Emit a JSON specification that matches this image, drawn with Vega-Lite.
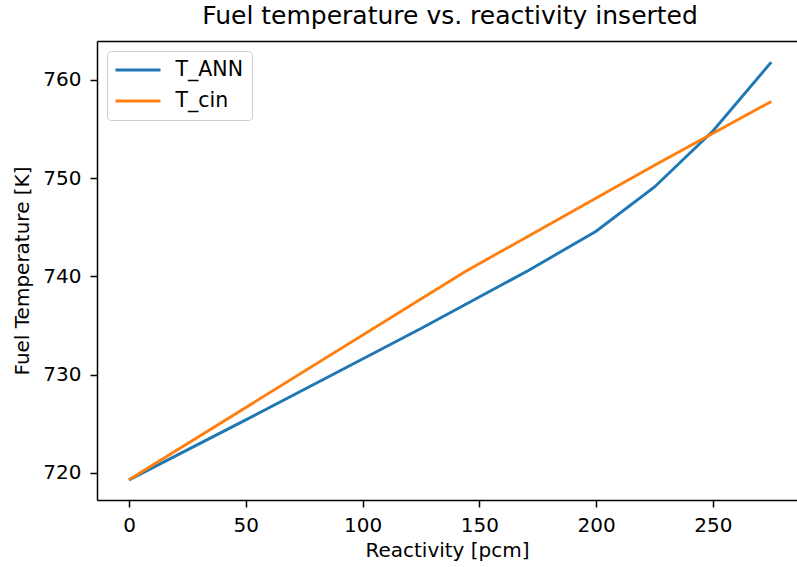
{
  "$schema": "https://vega.github.io/schema/vega-lite/v6.json",
  "autosize": {"type": "none"},
  "padding": {"left": 97, "top": 41, "right": 0, "bottom": 67},
  "width": 700,
  "height": 459,
  "background": "white",
  "config": {
    "font": "DejaVu Sans",
    "view": {"stroke": null},
    "axis": {
      "domainColor": "black", "domainWidth": 1.5,
      "tickColor": "black", "tickWidth": 1.5, "tickSize": 7,
      "labelColor": "black", "labelFontSize": 20, "labelFont": "DejaVu Sans",
      "titleColor": "black", "titleFontSize": 20, "titleFont": "DejaVu Sans", "titleFontWeight": "normal",
      "grid": false
    }
  },
  "title": {
    "text": "Fuel temperature vs. reactivity inserted",
    "fontSize": 25, "fontWeight": "normal", "font": "DejaVu Sans", "color": "black",
    "anchor": "middle", "baseline": "alphabetic", "offset": 13, "dx": 3, "dy": 21
  },
  "data": {
    "values": [
      {"reactivity": 0, "T": 719.3, "series": "T_ANN"},
      {"reactivity": 50, "T": 725.4, "series": "T_ANN"},
      {"reactivity": 100, "T": 731.6, "series": "T_ANN"},
      {"reactivity": 125, "T": 734.7, "series": "T_ANN"},
      {"reactivity": 171, "T": 740.6, "series": "T_ANN"},
      {"reactivity": 200, "T": 744.6, "series": "T_ANN"},
      {"reactivity": 225, "T": 749.1, "series": "T_ANN"},
      {"reactivity": 250, "T": 754.8, "series": "T_ANN"},
      {"reactivity": 275, "T": 761.8, "series": "T_ANN"},
      {"reactivity": 0, "T": 719.3, "series": "T_cin"},
      {"reactivity": 144, "T": 740.5, "series": "T_cin"},
      {"reactivity": 225, "T": 751.3, "series": "T_cin"},
      {"reactivity": 275, "T": 757.8, "series": "T_cin"}
    ]
  },
  "layer": [
    {
      "mark": {"type": "line", "strokeWidth": 2.9, "clip": true},
      "encoding": {
        "x": {
          "field": "reactivity", "type": "quantitative",
          "scale": {"domain": [-13.7, 286.0], "nice": false, "zero": false},
          "axis": {"values": [0, 50, 100, 150, 200, 250], "title": "Reactivity [pcm]", "labelPadding": 8, "titlePadding": 5, "labelFlush": false}
        },
        "y": {
          "field": "T", "type": "quantitative",
          "scale": {"domain": [717.25, 763.95], "nice": false, "zero": false},
          "axis": {"values": [720, 730, 740, 750, 760], "title": "Fuel Temperature [K]", "labelPadding": 9, "titlePadding": 10, "labelFlush": false}
        },
        "color": {
          "field": "series", "type": "nominal",
          "scale": {"domain": ["T_ANN", "T_cin"], "range": ["#1f77b4", "#ff7f0e"]},
          "legend": {
            "title": null, "orient": "none", "legendX": 10, "legendY": 10,
            "padding": 8.5, "strokeColor": "#cccccc", "fillColor": "rgba(255,255,255,0.8)", "cornerRadius": 4,
            "symbolType": "M-2.5,0H2.5", "symbolSize": 324, "symbolStrokeWidth": 2.9, "symbolOffset": 12,
            "labelFontSize": 20.5, "labelFont": "DejaVu Sans", "labelColor": "black", "labelOffset": 27,
            "rowPadding": 10
          }
        }
      }
    },
    {
      "mark": {"type": "line", "opacity": 0},
      "encoding": {
        "x": {
          "field": "reactivity", "type": "quantitative",
          "axis": {"orient": "top", "labels": false, "ticks": false, "title": null, "domain": true}
        },
        "y": {"field": "T", "type": "quantitative", "axis": null}
      }
    }
  ],
  "resolve": {"axis": {"x": "independent", "y": "independent"}}
}
